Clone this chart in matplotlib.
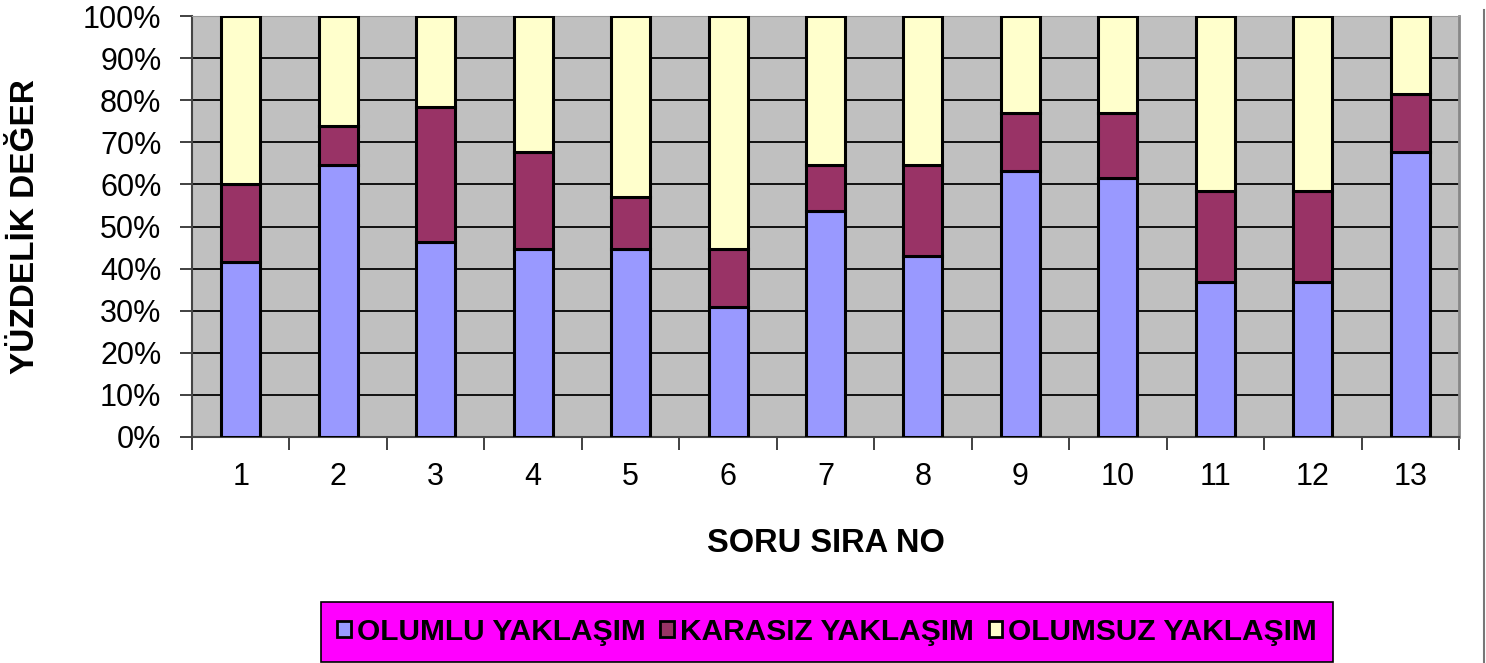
import matplotlib
matplotlib.use("Agg")
import matplotlib.pyplot as plt
from matplotlib.patches import Patch
from matplotlib.lines import Line2D
import numpy as np

plt.rcParams["font.family"] = ["Liberation Sans", "DejaVu Sans"]

# Values (percent of answers per question)
questions = ["1", "2", "3", "4", "5", "6", "7", "8", "9", "10", "11", "12", "13"]
olumlu = [41.5, 64.6, 46.2, 44.6, 44.6, 30.8, 53.8, 43.1, 63.1, 61.5, 36.9, 36.9, 67.7]
karasiz = [18.5, 9.2, 32.3, 23.1, 12.3, 13.8, 10.8, 21.5, 13.8, 15.4, 21.6, 21.6, 13.8]
olumsuz = [40.0, 26.2, 21.5, 32.3, 43.1, 55.4, 35.4, 35.4, 23.1, 23.1, 41.5, 41.5, 18.5]
series_names = ["OLUMLU YAKLAŞIM", "KARASIZ YAKLAŞIM", "OLUMSUZ YAKLAŞIM"]
colors = ["#9999FF", "#993366", "#FFFFCC"]

fig = plt.figure(figsize=(14.86, 6.63), dpi=100)
ax = fig.add_axes([192 / 1486, 1 - 437 / 663, (1459 - 192) / 1486, (437 - 16) / 663])
ax.set_facecolor("#C0C0C0")

x = np.arange(len(questions))
bottom = np.zeros(len(questions))
for vals, col in zip([olumlu, karasiz, olumsuz], colors):
    ax.bar(x, vals, bottom=bottom, width=0.4, color=col, edgecolor="black",
           linewidth=2.2, zorder=3)
    bottom += np.array(vals)

ax.set_xlim(-0.5, len(questions) - 0.5)
ax.set_ylim(0, 100)
ax.set_yticks(np.arange(0, 101, 10))
ax.set_yticklabels([f"{v}%" for v in range(0, 101, 10)], fontsize=22)
ax.yaxis.grid(True, color="#111111", linewidth=1.4, zorder=1)
ax.set_axisbelow(True)

ax.set_xticks(x)
ax.set_xticklabels(questions, fontsize=22)
ax.set_xticks(np.arange(-0.5, len(questions), 1), minor=True)
ax.tick_params(axis="x", which="major", length=0, pad=18)
ax.tick_params(axis="x", which="minor", length=9, width=1.3, color="#333333")
ax.tick_params(axis="y", length=9, width=1.3, color="#333333", pad=13)

for side in ["left", "bottom"]:
    ax.spines[side].set_color("#444444")
    ax.spines[side].set_linewidth(1.5)
ax.spines["top"].set_color("#999999")
ax.spines["right"].set_color("#888888")
ax.spines["right"].set_linewidth(2)

ax.set_xlabel("SORU SIRA NO", fontsize=23.5, fontweight="bold", labelpad=26)
ax.set_ylabel("YÜZDELİK DEĞER", fontsize=24, fontweight="bold", labelpad=30)

handles = [Patch(facecolor=c, edgecolor="black", linewidth=2) for c in colors]
leg = fig.legend(handles, series_names, loc="center", bbox_to_anchor=(827 / 1486, 1 - 632 / 663),
                 ncol=3, frameon=True, fancybox=False, facecolor="#FF00FF", edgecolor="black",
                 prop={"weight": "bold", "size": 21.5}, handlelength=0.45, handleheight=0.45,
                 handletextpad=0.2, columnspacing=0.5, borderpad=0.55, borderaxespad=0)
leg.get_frame().set_linewidth(1.2)
leg.get_frame().set_alpha(1)

# thin chart-area border at the right edge
fig.add_artist(Line2D([1484 / 1486, 1484 / 1486], [0, 0.985], color="#777777", linewidth=1.5))

fig.savefig("out.png", dpi=100)
